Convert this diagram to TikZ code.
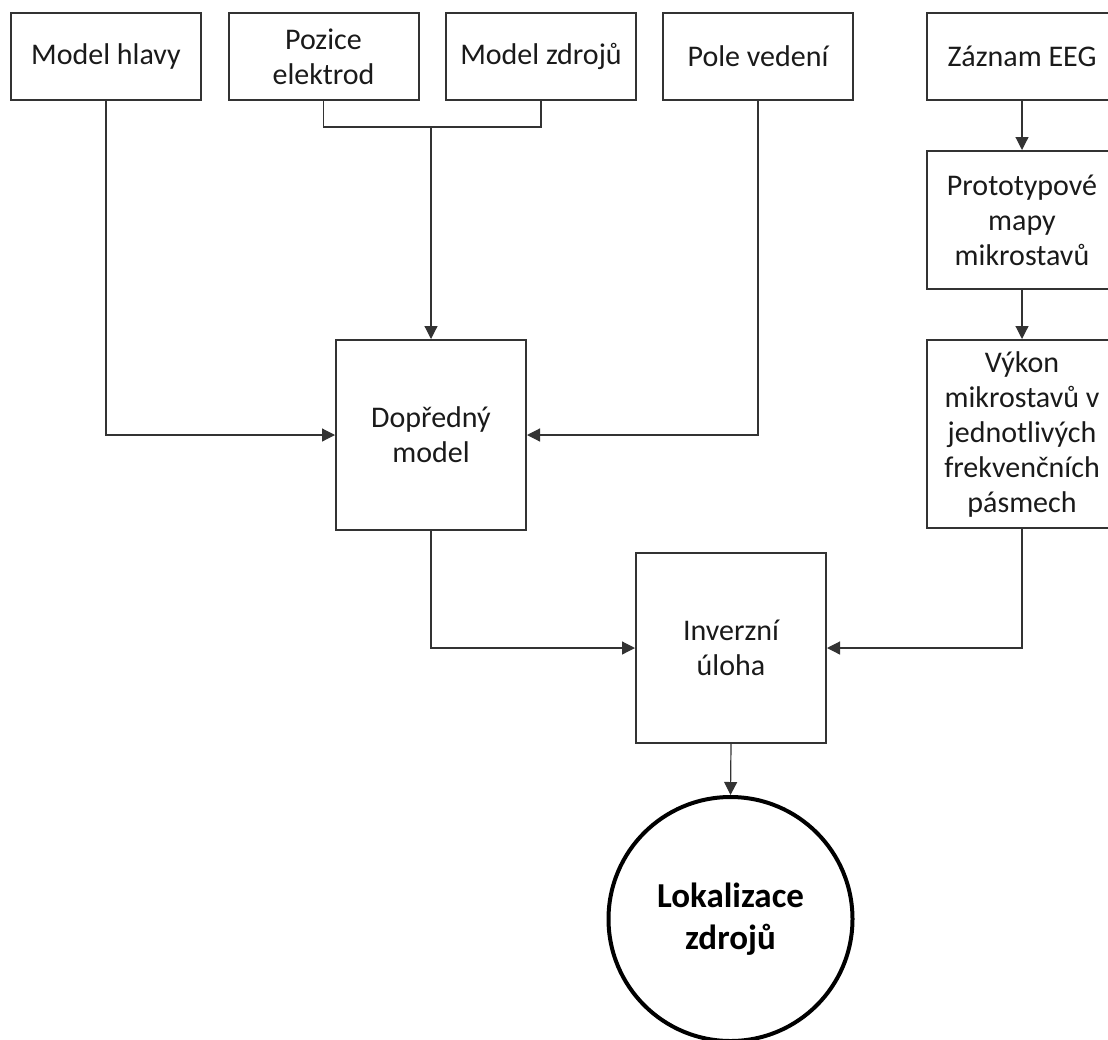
\documentclass[tikz,border=0pt]{standalone}
\usepackage{fontspec}
\setmainfont{Carlito}
\usetikzlibrary{arrows.meta}
\definecolor{boxline}{HTML}{333333}
\definecolor{conline}{HTML}{333333}
\definecolor{txt}{HTML}{1A1A1A}
\tikzset{
  blk/.style={draw=boxline, line width=1pt, rectangle, align=center, text=txt,
    font=\fontsize{15pt}{17.5pt}\selectfont, minimum width=95pt, inner sep=2pt},
  conn/.style={draw=conline, line width=0.6pt},
  arr/.style={conn, -{Triangle[length=6.5pt,width=6.5pt]}},
  endc/.style={draw=black, line width=2pt, circle, align=center, text=black,
    font=\fontsize{17.5pt}{21pt}\selectfont\bfseries, minimum size=122pt, inner sep=0pt}
}
\begin{document}
\begin{tikzpicture}[x=0.5pt,y=-0.5pt]
\path[use as bounding box] (0,0) rectangle (1108,1039);
\clip (0,0) rectangle (1108,1039);
\node[blk, minimum height=43.5pt] (hlavy) at (106,56.5) {Model hlavy};
\node[blk, minimum height=43.5pt] (pozice) at (323.5,56.5) {Pozice\\elektrod};
\node[blk, minimum height=43.5pt] (zdroju) at (541,56.5) {Model zdrojů};
\node[blk, minimum height=43.5pt] (pole) at (758,56.5) {Pole vedení};
\node[blk, minimum height=43.5pt] (zaznam) at (1022,56.5) {Záznam EEG};
\node[blk, minimum height=69pt] (proto) at (1022,220) {Prototypové\\mapy\\mikrostavů};
\node[blk, minimum height=94pt] (vykon) at (1022,434) {Výkon\\mikrostavů v\\jednotlivých\\frekvenčních\\pásmech};
\node[blk, minimum height=95pt] (dopr) at (431,435) {Dopředný\\model};
\node[blk, minimum height=95pt] (inv) at (731,648) {Inverzní\\úloha};
\node[endc] (lok) at (730.5,919) {Lokalizace\\zdrojů};
\coordinate (bj) at (431,127);
\draw[conn] (pozice.south) |- (bj) -| (zdroju.south);
\draw[arr] (bj) -- (dopr.north);
\draw[arr] (hlavy.south) |- (dopr.west);
\draw[arr] (pole.south) |- (dopr.east);
\draw[arr] (zaznam.south) -- (proto.north);
\draw[arr] (proto.south) -- (vykon.north);
\draw[arr] (dopr.south) |- (inv.west);
\draw[arr] (vykon.south) |- (inv.east);
\draw[arr] (inv.south) -- (lok.north);
\end{tikzpicture}
\end{document}
